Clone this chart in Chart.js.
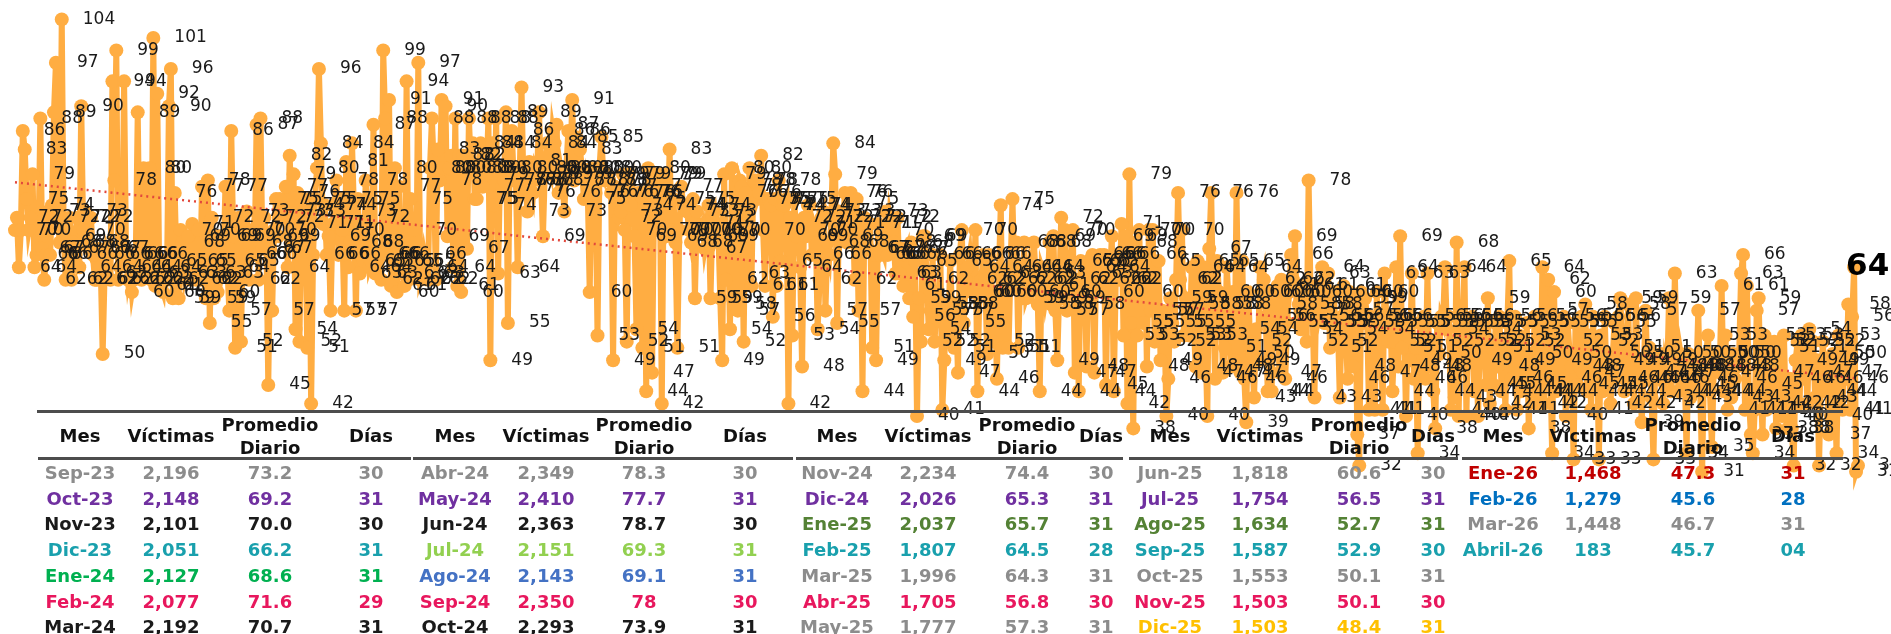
<!DOCTYPE html>
<html lang="es">
<head>
<meta charset="utf-8">
<title>Víctimas diarias</title>
<script src="https://cdn.jsdelivr.net/npm/chart.js@4.4.1/dist/chart.umd.min.js"></script>
<style>
  html, body { margin: 0; padding: 0; background: #fff; overflow: hidden; }
  #wrap { position: relative; width: 1891px; height: 634px; }
  #myChart { position: absolute; left: 0; top: 0; }
  #tabla { position: absolute; left: 0; top: 0; width: 1891px; height: 634px; pointer-events: none;
           font-family: "DejaVu Sans", sans-serif; font-weight: bold; }
  .celda { position: absolute; transform: translate(-50%, -50%); white-space: nowrap; font-size: 18px; }
  .enc { color: #111; text-align: center; line-height: 23px; }
  .linea { position: absolute; height: 3px; background: #4d4d4d; }
</style>
</head>
<body>
<div id="wrap">
  <canvas id="myChart" width="1891" height="634"></canvas>
  <div id="tabla"></div>
</div>
<script>
// victimas diarias, un arreglo por mes
const sep23 = [70, 72, 64, 70, 86, 83, 75, 70, 72, 79, 64, 66, 67, 88, 67, 62, 66, 73, 66, 74, 89, 97, 72, 68, 104, 69, 62, 67, 72, 62];
const oct23 = [68, 66, 72, 64, 90, 70, 73, 68, 67, 72, 66, 62, 62, 67, 64, 50, 63, 67, 66, 62, 94, 78, 99, 62, 64, 66, 94, 66, 62, 64, 60];
const nov23 = [62, 66, 89, 64, 62, 80, 66, 63, 80, 62, 101, 61, 92, 64, 61, 60, 65, 62, 90, 96, 59, 76, 63, 59, 70, 68, 63, 65, 69, 62];
const dic23 = [71, 65, 62, 70, 62, 77, 63, 59, 78, 55, 72, 59, 69, 60, 69, 63, 65, 77, 64, 57, 86, 69, 51, 65, 72, 52, 70, 66, 73, 62, 68];
const ene24 = [70, 66, 87, 62, 88, 67, 72, 69, 45, 67, 57, 70, 75, 69, 75, 72, 73, 77, 64, 82, 73, 79, 54, 76, 52, 74, 73, 71, 51, 75, 42];
const feb24 = [66, 75, 80, 96, 84, 71, 74, 66, 69, 57, 71, 74, 78, 66, 75, 70, 57, 81, 64, 68, 84, 73, 57, 75, 63, 68, 65, 78, 72];
const mar24 = [64, 65, 87, 63, 66, 66, 62, 99, 88, 66, 91, 61, 65, 80, 60, 77, 65, 63, 61, 94, 62, 75, 65, 70, 63, 97, 62, 63, 66, 64, 62];
const abr24 = [80, 88, 80, 62, 83, 78, 91, 80, 90, 69, 80, 82, 64, 88, 61, 82, 60, 82, 80, 67, 88, 80, 84, 75, 75, 80, 84, 77, 80, 79];
const may24 = [88, 49, 84, 74, 88, 63, 80, 77, 78, 89, 55, 84, 86, 78, 80, 64, 78, 93, 77, 78, 73, 81, 78, 76, 80, 79, 89, 78, 69, 80, 84];
const jun24 = [80, 79, 86, 84, 87, 76, 80, 78, 73, 80, 86, 79, 91, 78, 85, 80, 83, 80, 75, 78, 76, 60, 80, 78, 76, 53, 80, 85, 79, 78];
const jul24 = [79, 78, 76, 49, 77, 76, 72, 73, 79, 70, 52, 79, 74, 76, 69, 54, 76, 76, 51, 75, 44, 80, 77, 47, 74, 79, 70, 79, 42, 79, 69];
const ago24 = [70, 83, 70, 75, 68, 51, 70, 77, 74, 74, 73, 70, 68, 75, 59, 73, 70, 70, 71, 67, 69, 74, 59, 72, 73, 69, 70, 59, 49, 79, 62];
const sep24 = [70, 54, 80, 58, 76, 57, 78, 77, 52, 76, 63, 80, 61, 78, 78, 75, 76, 82, 70, 61, 75, 75, 74, 56, 75, 61, 78, 65, 74, 74];
const oct24 = [75, 42, 72, 53, 75, 69, 70, 64, 48, 72, 69, 74, 74, 66, 71, 70, 54, 62, 72, 73, 57, 68, 66, 72, 84, 79, 55, 73, 69, 71, 76];
const nov24 = [68, 72, 76, 73, 62, 75, 57, 72, 44, 72, 67, 67, 71, 51, 66, 49, 71, 66, 67, 66, 73, 66, 72, 70, 68, 63, 72, 63, 67, 61];
const dic24 = [66, 67, 59, 68, 56, 65, 40, 59, 52, 69, 69, 62, 54, 57, 66, 52, 58, 57, 66, 41, 49, 58, 52, 65, 57, 51, 58, 47, 66, 70, 55];
const ene25 = [62, 64, 66, 60, 60, 70, 44, 60, 62, 66, 62, 50, 66, 64, 52, 60, 46, 63, 74, 51, 60, 62, 51, 64, 75, 62, 68, 51, 64, 59, 68];
const feb25 = [59, 60, 64, 62, 68, 62, 58, 44, 64, 63, 59, 61, 68, 58, 69, 57, 49, 60, 72, 59, 70, 57, 62, 65, 70, 47, 62, 44];
const mar25 = [65, 58, 64, 48, 65, 63, 66, 47, 65, 62, 66, 60, 66, 45, 64, 62, 69, 44, 62, 66, 62, 71, 53, 69, 42, 79, 55, 38, 68, 53, 70];
const abr25 = [60, 55, 66, 48, 70, 57, 70, 52, 57, 65, 49, 57, 55, 40, 46, 59, 55, 52, 62, 76, 62, 70, 53, 59, 58, 53, 64, 55, 48, 65];
const may25 = [58, 47, 64, 53, 40, 67, 76, 58, 46, 65, 60, 58, 47, 51, 64, 58, 48, 60, 49, 76, 54, 47, 65, 46, 39, 60, 52, 50, 43, 54, 49];
const jun25 = [64, 60, 62, 56, 44, 60, 44, 56, 58, 61, 47, 62, 60, 46, 55, 60, 66, 62, 69, 55, 58, 54, 61, 57, 52, 78, 60, 58, 43, 61];
const jul25 = [56, 58, 64, 55, 55, 63, 51, 56, 60, 52, 55, 43, 56, 61, 54, 46, 60, 57, 48, 59, 37, 32, 60, 55, 59, 56, 41, 56, 54, 41, 60];
const ago25 = [47, 56, 41, 63, 55, 52, 56, 44, 52, 64, 48, 69, 51, 55, 40, 55, 49, 63, 46, 51, 34, 55, 48, 56, 46, 63, 48, 52, 44, 38, 55];
const sep25 = [50, 56, 55, 64, 54, 56, 41, 52, 43, 68, 40, 56, 55, 64, 40, 55, 49, 56, 44, 52, 40, 54, 55, 52, 45, 59, 42, 51, 45, 55];
const oct25 = [48, 56, 44, 52, 41, 55, 65, 46, 49, 56, 41, 53, 44, 52, 45, 55, 38, 50, 44, 56, 42, 55, 44, 64, 42, 57, 62, 49, 34, 60, 44];
const nov25 = [55, 46, 52, 56, 40, 55, 50, 48, 33, 55, 45, 48, 56, 47, 58, 44, 53, 41, 56, 45, 52, 33, 53, 44, 56, 45, 50, 42, 49, 55];
const dic25 = [46, 56, 59, 51, 44, 49, 58, 46, 50, 42, 59, 46, 49, 39, 47, 57, 46, 51, 43, 33, 49, 47, 46, 50, 42, 48, 46, 59, 44, 47, 63];
const ene26 = [48, 44, 50, 48, 48, 34, 50, 43, 48, 45, 46, 57, 44, 31, 48, 50, 53, 44, 35, 48, 50, 50, 47, 61, 44, 53, 41, 48, 43, 50, 46];
const feb26 = [48, 50, 63, 66, 41, 61, 43, 37, 34, 41, 57, 59, 45, 37, 53, 41, 52, 42, 47, 52, 38, 51, 42, 40, 53, 40, 38, 46];
const mar26 = [38, 32, 49, 52, 42, 53, 46, 51, 42, 54, 47, 52, 43, 49, 32, 46, 52, 44, 49, 37, 40, 50, 44, 34, 53, 47, 41, 50, 46, 58, 41];
const abr26 = [56, 64, 31, 32];

// tabla resumen
const mesesTabla = ["Sep-23", "Oct-23", "Nov-23", "Dic-23", "Ene-24", "Feb-24", "Mar-24",
  "Abr-24", "May-24", "Jun-24", "Jul-24", "Ago-24", "Sep-24", "Oct-24",
  "Nov-24", "Dic-24", "Ene-25", "Feb-25", "Mar-25", "Abr-25", "May-25",
  "Jun-25", "Jul-25", "Ago-25", "Sep-25", "Oct-25", "Nov-25", "Dic-25",
  "Ene-26", "Feb-26", "Mar-26", "Abril-26"];
const victimasTabla = ["2,196", "2,148", "2,101", "2,051", "2,127", "2,077", "2,192",
  "2,349", "2,410", "2,363", "2,151", "2,143", "2,350", "2,293",
  "2,234", "2,026", "2,037", "1,807", "1,996", "1,705", "1,777",
  "1,818", "1,754", "1,634", "1,587", "1,553", "1,503", "1,503",
  "1,468", "1,279", "1,448", "183"];
const promedioTabla = ["73.2", "69.2", "70.0", "66.2", "68.6", "71.6", "70.7",
  "78.3", "77.7", "78.7", "69.3", "69.1", "78", "73.9",
  "74.4", "65.3", "65.7", "64.5", "64.3", "56.8", "57.3",
  "60.6", "56.5", "52.7", "52.9", "50.1", "50.1", "48.4",
  "47.3", "45.6", "46.7", "45.7"];
const diasTabla = ["30", "31", "30", "31", "31", "29", "31",
  "30", "31", "30", "31", "31", "30", "31",
  "30", "31", "31", "28", "31", "30", "31",
  "30", "31", "31", "30", "31", "30", "31",
  "31", "28", "31", "04"];
const coloresTabla = ["#8c8c8c", "#7030a0", "#1a1a1a", "#19a0ad", "#00b050", "#e8175d", "#1a1a1a",
  "#8c8c8c", "#7030a0", "#1a1a1a", "#92d050", "#4472c4", "#e8175d", "#1a1a1a",
  "#8c8c8c", "#7030a0", "#548235", "#19a0ad", "#8c8c8c", "#e8175d", "#8c8c8c",
  "#8c8c8c", "#7030a0", "#548235", "#19a0ad", "#8c8c8c", "#e8175d", "#ffc000",
  "#c00000", "#0070c0", "#8c8c8c", "#19a0ad"];

const porMes = [sep23, oct23, nov23, dic23, ene24, feb24, mar24, abr24, may24, jun24, jul24, ago24,
  sep24, oct24, nov24, dic24, ene25, feb25, mar25, abr25, may25, jun25, jul25, ago25,
  sep25, oct25, nov25, dic25, ene26, feb26, mar26, abr26];

// juntando todo en una sola serie
const victimasDiarias = [];
const etiquetasDias = [];
porMes.forEach((mes, m) => {
  mes.forEach((v, d) => {
    victimasDiarias.push(v);
    etiquetasDias.push(mesesTabla[m] + " " + (d + 1));
  });
});

// el dia resaltado (64 en abril)
const destacado = victimasDiarias.length - 3;

// linea de tendencia lineal (minimos cuadrados)
const n = victimasDiarias.length;
let sx = 0, sy = 0, sxy = 0, sxx = 0;
victimasDiarias.forEach((v, i) => { sx += i; sy += v; sxy += i * v; sxx += i * i; });
const pendiente = (n * sxy - sx * sy) / (n * sxx - sx * sx);
const origen = (sy - pendiente * sx) / n;
const tendencia = victimasDiarias.map((v, i) => origen + pendiente * i);

// etiquetas de cada punto
const etiquetas = {
  id: "etiquetas",
  afterDatasetsDraw(chart) {
    const c = chart.ctx;
    const meta = chart.getDatasetMeta(1);
    c.save();
    c.fillStyle = "#1a1a1a";
    c.textBaseline = "middle";
    c.font = "17px 'DejaVu Sans'";
    meta.data.forEach((p, i) => {
      if (i === destacado) return;
      c.fillText(victimasDiarias[i], p.x + 21, p.y);
    });
    const p = meta.data[destacado];
    c.font = "bold 31px 'DejaVu Sans'";
    c.fillStyle = "#000";
    c.fillText(victimasDiarias[destacado], p.x - 8, p.y);
    c.restore();
  }
};

const ctx = document.getElementById("myChart").getContext("2d");
new Chart(ctx, {
  type: "line",
  data: {
    labels: etiquetasDias,
    datasets: [
      {
        // tendencia
        label: "Tendencia",
        data: tendencia,
        borderColor: "#e2483c",
        borderWidth: 2.5,
        borderDash: [2, 4],
        pointRadius: 0,
        fill: false,
        clip: false,
        order: 0,
      },
      {
        // victimas por dia
        label: "Víctimas",
        data: victimasDiarias,
        borderColor: "#ffad42",
        backgroundColor: "#ffad42",
        borderWidth: 6,
        pointRadius: 7,
        pointBorderWidth: 0,
        pointHoverRadius: 7,
        fill: false,
        clip: false,
        order: 1,
      },
    ],
  },
  options: {
    responsive: false,
    animation: false,
    layout: { padding: { left: 15, right: 33, top: 2.5, bottom: 156 } },
    scales: {
      x: { display: false, offset: false },
      y: { display: false, min: 30, max: 106 },
    },
    elements: { line: { tension: 0 } },
    plugins: { legend: { display: false }, tooltip: { enabled: false } },
  },
  plugins: [etiquetas],
});

// armando la tabla encima de la grafica
const tabla = document.getElementById("tabla");
const columnasX = [[80, 171, 270, 371], [455, 546, 644, 745], [837, 928, 1027, 1101],
  [1170, 1260, 1359, 1433], [1503, 1593, 1693, 1793]];

function celda(html, x, y, color, clase) {
  const el = document.createElement("div");
  el.className = "celda" + (clase ? " " + clase : "");
  el.style.left = x + "px";
  el.style.top = y + "px";
  el.style.color = color;
  el.innerHTML = html;
  tabla.appendChild(el);
}

function linea(x1, x2, y) {
  const el = document.createElement("div");
  el.className = "linea";
  el.style.left = x1 + "px";
  el.style.width = (x2 - x1) + "px";
  el.style.top = y + "px";
  tabla.appendChild(el);
}

linea(37, 1843, 410);
[[38, 411], [413, 793], [796, 1123], [1129, 1458], [1462, 1843]].forEach((s) => linea(s[0], s[1], 457));

columnasX.forEach((cx, g) => {
  celda("Mes", cx[0], 435, "#111", "enc");
  celda("Víctimas", cx[1], 435, "#111", "enc");
  celda("Promedio<br>Diario", cx[2], 436, "#111", "enc");
  celda("Días", cx[3], 435, "#111", "enc");
  for (let k = 0; k < 7; k++) {
    const m = g * 7 + k;
    if (m >= mesesTabla.length) break;
    const y = 472 + k * 25.7;
    celda(mesesTabla[m], cx[0], y, coloresTabla[m]);
    celda(victimasTabla[m], cx[1], y, coloresTabla[m]);
    celda(promedioTabla[m], cx[2], y, coloresTabla[m]);
    celda(diasTabla[m], cx[3], y, coloresTabla[m]);
  }
});
</script>
</body>
</html>
